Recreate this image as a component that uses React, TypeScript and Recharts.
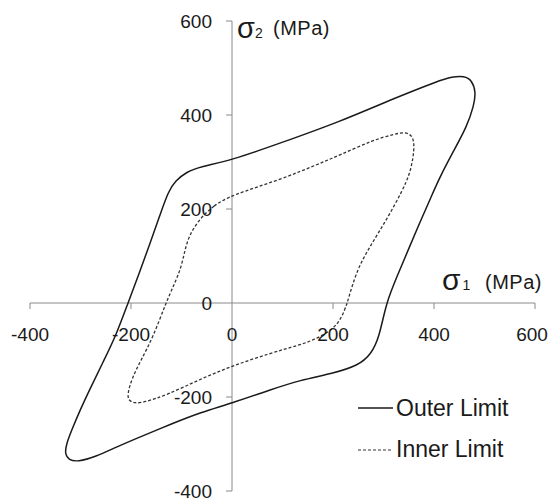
import React from 'react'
import { LineChart, Line, XAxis, YAxis, ReferenceLine, ReferenceDot, Legend } from 'recharts'

// sigma1, sigma2 (MPa), traced counter-clockwise from the sigma2 axis
const outerLimit: [number, number][] = [
    [0, 304], [-63, 290], [-90, 279], [-112, 260], [-126, 238], [-143, 186], [-162, 128],
    [-183, 65], [-206, 0], [-230, -70], [-255, -125], [-280, -180], [-301, -228], [-318, -272],
    [-328, -300], [-331, -321], [-323, -334], [-306, -338], [-270, -327], [-230, -307],
    [-182, -285], [-117, -256], [-63, -233], [0, -213], [75, -185], [135, -164], [200, -150],
    [250, -133], [275, -110], [292, -72], [305, 0], [327, 57], [349, 113], [371, 169],
    [394, 225], [412, 269], [438, 322], [465, 375], [479, 420], [483, 449], [475, 474],
    [460, 483], [435, 481], [412, 474], [313, 432], [214, 386], [95, 340],
]

const innerLimit: [number, number][] = [
    [0, 230], [-37, 207], [-63, 180], [-83, 148], [-93, 115], [-100, 77], [-115, 38],
    [-131, 0], [-156, -72], [-180, -121], [-198, -160], [-207, -193], [-205, -208],
    [-192, -213], [-176, -212], [-129, -196], [-63, -162], [0, -134], [75, -107], [135, -89],
    [161, -79], [200, -57], [218, -30], [228, 0], [228, 0], [247, 70], [273, 120], [306, 177],
    [338, 240], [352, 275], [359, 310], [361, 339], [357, 356], [343, 364], [320, 359],
    [280, 347], [214, 315], [174, 297], [95, 262],
]

const xTicks = [-400, -200, 0, 200, 400, 600]
const yTicks = [-400, -200, 0, 200, 400, 600]

const outerData = outerLimit.map(([x, y]) => ({ x, y }))
const innerData = innerLimit.map(([x, y]) => ({ x, y }))

const FONT = '"Liberation Sans", Arial, sans-serif'
const AXIS = '#8a8a8a'
const INK = '#1a1a1a'

function XTick({ cx, cy, value }: any) {
    // last label sits against the right edge of the picture
    const shift = value === 600 ? -3 : 0
    return (
        <g>
            {value !== 0 && <line x1={cx} y1={cy} x2={cx} y2={cy + 6} stroke={AXIS} />}
            <text x={cx + shift} y={cy + 38} textAnchor="middle" fontSize={19} fontFamily={FONT} fill={INK}>{value}</text>
        </g>
    )
}

function YTick({ cx, cy, value }: any) {
    return (
        <g>
            {value !== 0 && <line x1={cx - 6} y1={cy} x2={cx} y2={cy} stroke={AXIS} />}
            <text x={cx - 20} y={cy + 7} textAnchor="end" fontSize={19} fontFamily={FONT} fill={INK}>{value}</text>
        </g>
    )
}

function LegendBox() {
    return (
        <svg width={190} height={80} style={{ display: 'block' }}>
            <line x1={8} y1={18} x2={43} y2={18} stroke={INK} strokeWidth={1.4} />
            <text x={46} y={26} fontSize={23} fontFamily={FONT} fill={INK}>Outer Limit</text>
            <line x1={8} y1={60} x2={41} y2={60} stroke="#333" strokeWidth={1.2} strokeDasharray="3 2" />
            <text x={46} y={67} fontSize={23} fontFamily={FONT} fill={INK}>Inner Limit</text>
        </svg>
    )
}

export default function App() {
    return (
        <div style={{ position: 'absolute', left: 0, top: 0, background: '#fff' }}>
            <LineChart width={549} height={501} margin={{ top: 21, right: 14, bottom: 10, left: 30 }}>
                <XAxis type="number" dataKey="x" domain={[-400, 600]} ticks={xTicks} hide />
                <YAxis type="number" dataKey="y" domain={[-400, 600]} ticks={yTicks} hide />

                <ReferenceLine y={0} stroke={AXIS} strokeWidth={1} />
                <ReferenceLine x={0} stroke={AXIS} strokeWidth={1} />

                {xTicks.map(t => (
                    <ReferenceDot key={`xt${t}`} x={t} y={0} r={0}
                        shape={(p: any) => <XTick cx={p.cx} cy={p.cy} value={t} />} />
                ))}
                {yTicks.map(t => (
                    <ReferenceDot key={`yt${t}`} x={0} y={t} r={0}
                        shape={(p: any) => <YTick cx={p.cx} cy={p.cy} value={t} />} />
                ))}

                {/* axis titles */}
                <ReferenceDot x={0} y={600} r={0} shape={(p: any) => (
                    <g fontFamily={FONT} fill={INK}>
                        <text x={p.cx + 5} y={p.cy + 17}>
                            <tspan fontSize={29}>σ</tspan><tspan fontSize={14}>2</tspan>
                        </text>
                        <text x={p.cx + 41} y={p.cy + 13.5} fontSize={20} letterSpacing={0.5}>(MPa)</text>
                    </g>
                )} />
                <ReferenceDot x={600} y={0} r={0} shape={(p: any) => (
                    <g fontFamily={FONT} fill={INK}>
                        <text x={p.cx - 93} y={p.cy - 13}>
                            <tspan fontSize={30}>σ</tspan><tspan fontSize={14} dx={2}>1</tspan>
                        </text>
                        <text x={p.cx - 50} y={p.cy - 14.5} fontSize={20} letterSpacing={0.5}>(MPa)</text>
                    </g>
                )} />

                <Line data={outerData} dataKey="y" name="Outer Limit" type="basisClosed"
                    stroke={INK} strokeWidth={1.5} dot={false} activeDot={false} isAnimationActive={false} />
                <Line data={innerData} dataKey="y" name="Inner Limit" type="basisClosed"
                    stroke="#333" strokeWidth={1.3} strokeDasharray="3 2" dot={false} activeDot={false} isAnimationActive={false} />

                <Legend layout="horizontal" verticalAlign="middle" align="center"
                    wrapperStyle={{ left: 350, top: 390, width: 190 }} content={() => <LegendBox />} />
            </LineChart>
        </div>
    )
}
